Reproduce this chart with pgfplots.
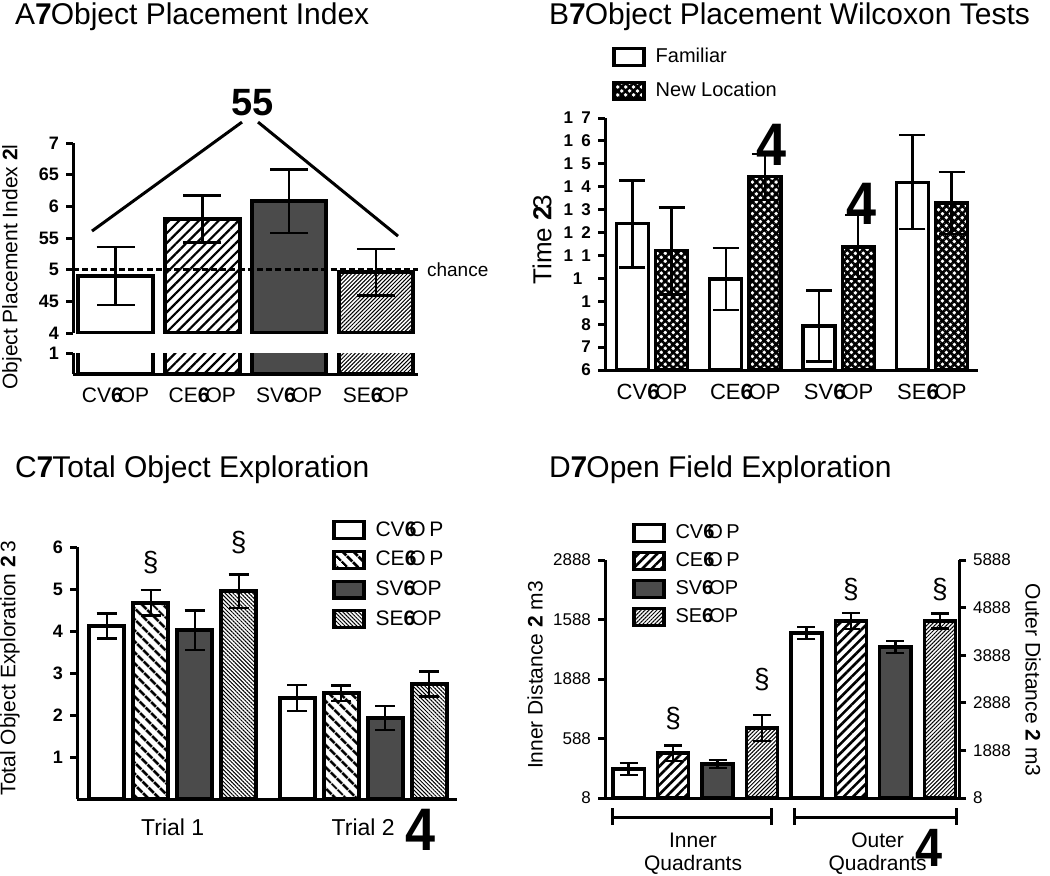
\documentclass[border=0pt]{standalone}
\usepackage{pgfplots}
\pgfplotsset{compat=1.18}
\usetikzlibrary{patterns.meta}
\usepackage{fontspec}
\setmainfont{Liberation Sans}
\newcommand\fs[1]{\fontsize{#1}{#1}\selectfont}
\definecolor{dgray}{RGB}{75,75,75}

\pgfplotsset{
  panel/.style={
    scale only axis, anchor=south west, clip mode=individual,
    ybar, bar shift=0pt,
    axis line style={line width=1.5pt, black},
    tick style={line width=1.5pt, black},
    major tick length=3.5pt, tick align=outside,
    xtick style={draw=none},
    /pgf/number format/assume math mode=true,
    error bars/y dir=both, error bars/y explicit,
    error bars/error bar style={line width=1.2pt, black},
    legend cell align=left,
  },
  boxleg/.style={legend image code/.code={\draw[##1, line width=1.6pt] (0pt,-4.2pt) rectangle (15pt,4.2pt);}},
  legsty/.style={legend style={draw=none, fill=none, inner sep=0pt, anchor=north west, row sep=4pt, column sep=3pt}},
}

\begin{document}
\begin{tikzpicture}
\path[use as bounding box] (0,0) rectangle (525pt,-437.5pt);

% ---------------- Panel A ----------------
\node[anchor=base west, font=\fs{15}] at (4pt,-12pt) {A\textbf{7}\kern-0.5pt Object Placement Index};
\begin{axis}[panel, at={(36.5pt,-166.5pt)}, width=172.5pt, height=95pt,
  xmin=-0.49, xmax=3.485, ymin=0.4, ymax=0.7,
  axis y line*=left, axis x line=none, xtick=\empty,
  ytick={0.4,0.45,0.5,0.55,0.6,0.65,0.7}, yticklabels={4,45,5,55,6,65,7},
  yticklabel style={font=\bfseries\fs{9}},
  bar width=0.86,
  error bars/error mark options={line width=1.2pt, mark size=9.5pt, rotate=90},
]
\addplot[draw=black, line width=2pt, fill=white] coordinates {(0,0.49) +- (0,0.046)};
\addplot[draw=black, line width=2pt, pattern={Lines[angle=45,distance=3.5pt,line width=1.1pt]}] coordinates {(1,0.58) +- (0,0.037)};
\addplot[draw=black, line width=2pt, fill=dgray] coordinates {(2,0.608) +- (0,0.05)};
\addplot[draw=black, line width=2pt, pattern={Lines[angle=45,distance=1.4pt,line width=0.5pt]}] coordinates {(3,0.496) +- (0,0.037)};
\addplot[sharp plot, no marks, black, line width=1.3pt, dash pattern=on 3pt off 1.6pt, error bars/y dir=none] coordinates {(-0.49,0.5) (3.485,0.5)};
\draw[line width=1.5pt] (axis cs:-0.271,0.561) -- (axis cs:1.457,0.733);
\draw[line width=1.5pt] (axis cs:1.642,0.733) -- (axis cs:3.255,0.553);
\node[font=\bfseries\fs{19}] at (axis cs:1.575,0.763) {55};
\node[anchor=west, font=\fs{9.5}, xshift=1pt] at (axis cs:3.485,0.5) {chance};
\end{axis}
\begin{axis}[panel, at={(36.5pt,-187pt)}, width=172.5pt, height=10.5pt,
  xmin=-0.49, xmax=3.485, ymin=0, ymax=0.1,
  axis y line*=left, axis x line*=bottom,
  ytick={0.1}, yticklabels={1}, yticklabel style={font=\bfseries\fs{9}},
  xtick={0,1,2,3},
  xticklabels={CV\textbf{6}\kern-2pt OP,CE\textbf{6}\kern-2pt OP,SV\textbf{6}\kern-2pt OP,SE\textbf{6}\kern-2pt OP},
  xticklabel style={font=\fs{10.5}},
  bar width=0.86, error bars/y dir=none,
]
\addplot[draw=black, line width=2pt, fill=white] coordinates {(0,0.49)};
\addplot[draw=black, line width=2pt, pattern={Lines[angle=45,distance=3.5pt,line width=1.1pt]}] coordinates {(1,0.58)};
\addplot[draw=black, line width=2pt, fill=dgray] coordinates {(2,0.608)};
\addplot[draw=black, line width=2pt, pattern={Lines[angle=45,distance=1.4pt,line width=0.5pt]}] coordinates {(3,0.496)};
\end{axis}
\node[rotate=90, font=\fs{10.5}] at (6pt,-133.5pt) {Object Placement Index \textbf{2}l};

% ---------------- Panel B ----------------
\node[anchor=base west, font=\fs{15}] at (271pt,-12pt) {B\textbf{7}\kern-0.5pt Object Placement Wilcoxon Tests};
\begin{axis}[panel, legsty, at={(302.5pt,-185pt)}, width=186.5pt, height=126pt,
  xmin=-0.504, xmax=3.494, ymin=6, ymax=17,
  axis y line*=left, axis x line*=bottom,
  xtick={0,1,2,3},
  xticklabels={CV\textbf{6}\kern-2pt OP,CE\textbf{6}\kern-2pt OP,SV\textbf{6}\kern-2pt OP,SE\textbf{6}\kern-2pt OP},
  xticklabel style={font=\fs{11}},
  ytick={6,...,17},
  yticklabels={6,7,8,1,1\enspace,1\enspace 1,1\enspace 2,1\enspace 3,1\enspace 4,1\enspace 5,1\enspace 6,1\enspace 7},
  yticklabel style={font=\bfseries\fs{8.5}},
  bar width=0.343,
  error bars/error mark options={line width=1.2pt, mark size=6.5pt, rotate=90},
  legend style={at={(0.019,1.294)}, font=\fs{10}},
]
\addplot[boxleg, draw=black, line width=1.6pt, fill=white] coordinates {(-0.21,12.38) +- (0,1.9) (0.79,9.97) +- (0,1.35) (1.79,7.92) +- (0,1.55) (2.79,14.2) +- (0,2.05)};
\addlegendentry{Familiar}
\addplot[boxleg, draw=black, line width=1.6pt, pattern={Hatch[angle=45,distance=2.8pt,line width=1.3pt]}] coordinates {(0.21,11.2) +- (0,1.9) (1.21,14.43) +- (0,1.0) (2.21,11.37) +- (0,1.4) (3.21,13.29) +- (0,1.35)};
\addlegendentry{New Location}
\end{axis}
\node[rotate=90, font=\fs{13}] at (271pt,-120pt) {Time \textbf{2}\kern-2pt 3};
\node[font=\bfseries\fs{30}, xscale=0.9] at (386pt,-72.5pt) {4};
\node[font=\bfseries\fs{30}, xscale=0.9] at (431pt,-102pt) {4};

% ---------------- Panel C ----------------
\node[anchor=base west, font=\fs{15}] at (4pt,-238.5pt) {C\textbf{7}\kern-0.5pt Total Object Exploration};
\begin{axis}[panel, legsty, at={(38.5pt,-399.5pt)}, width=190pt, height=126pt,
  xmin=0.4976, xmax=2.492, ymin=0, ymax=6,
  axis y line*=left, axis x line*=bottom,
  xtick={1,2}, xticklabels={Trial 1,Trial 2}, xticklabel style={font=\fs{11.5}, yshift=-3pt},
  ytick={1,...,6}, yticklabel style={font=\bfseries\fs{9}},
  bar width=0.184,
  error bars/error mark options={line width=1.2pt, mark size=5pt, rotate=90},
  legend style={at={(0.671,1.119)}, font=\fs{10.5}, row sep=2pt},
]
\addplot[boxleg, draw=black, line width=1.8pt, fill=white] coordinates {(0.6535,4.12) +- (0,0.3) (1.6535,2.4) +- (0,0.31)};
\addlegendentry{CV\textbf{6}\kern-3.5pt O\,P}
\addplot[boxleg, draw=black, line width=1.8pt, pattern={Lines[angle=-45,distance=4pt,line width=1.5pt]}] coordinates {(0.8845,4.67) +- (0,0.3) (1.8845,2.52) +- (0,0.18)};
\addlegendentry{CE\textbf{6}\kern-3.5pt O\,P}
\addplot[boxleg, draw=black, line width=1.8pt, fill=dgray] coordinates {(1.1155,4.02) +- (0,0.47) (2.1155,1.93) +- (0,0.28)};
\addlegendentry{SV\textbf{6}\kern-2pt OP}
\addplot[boxleg, draw=black, line width=1.8pt, pattern={Lines[angle=-45,distance=1.4pt,line width=0.5pt]}] coordinates {(1.3465,4.95) +- (0,0.4) (2.3465,2.74) +- (0,0.3)};
\addlegendentry{SE\textbf{6}\kern-2pt OP}
\node[font=\fs{14}] at (axis cs:0.8845,5.62) {§};
\node[font=\fs{14}] at (axis cs:1.3465,6.1) {§};
\end{axis}
\node[rotate=90, font=\fs{10.5}] at (5pt,-334pt) {Total Object Exploration \textbf{2}\,3};
\node[font=\bfseries\fs{30}, xscale=0.9] at (210.5pt,-415pt) {4};

% ---------------- Panel D ----------------
\node[anchor=base west, font=\fs{15}] at (271pt,-238.5pt) {D\textbf{7}\kern-0.5pt Open Field Exploration};
\begin{axis}[panel, legsty, at={(302.5pt,-399pt)}, width=177pt, height=119pt,
  xmin=-0.53, xmax=7.43, ymin=0, ymax=2000,
  axis y line*=left, axis x line*=bottom,
  xtick={1.45,5.6}, xticklabels={Inner\\Quadrants,Outer\\Quadrants},
  xticklabel style={font=\fontsize{10.5}{11.5}\selectfont, align=center, yshift=-10.5pt},
  ytick={0,500,1000,1500,2000}, yticklabels={8,588,1888,1588,2888},
  yticklabel style={font=\fs{8.5}},
  bar width=0.7,
  error bars/error mark options={line width=1.2pt, mark size=4.5pt, rotate=90},
  legend style={at={(0.076,1.168)}, font=\fs{10}, row sep=1.5pt},
]
\addplot[boxleg, draw=black, line width=1.6pt, fill=white] coordinates {(0,244) +- (0,50)};
\addlegendentry{CV\textbf{6}\kern-3.5pt O\,P}
\addplot[boxleg, draw=black, line width=1.6pt, pattern={Lines[angle=45,distance=3.3pt,line width=1.3pt]}] coordinates {(1,378) +- (0,65)};
\addlegendentry{CE\textbf{6}\kern-3.5pt O\,P}
\addplot[boxleg, draw=black, line width=1.6pt, fill=dgray] coordinates {(2,286) +- (0,35)};
\addlegendentry{SV\textbf{6}\kern-2pt OP}
\addplot[boxleg, draw=black, line width=1.6pt, pattern={Lines[angle=45,distance=1.4pt,line width=0.5pt]}] coordinates {(3,588) +- (0,110)};
\addlegendentry{SE\textbf{6}\kern-2pt OP}
\node[font=\fs{14}] at (axis cs:1,672) {§};
\node[font=\fs{14}] at (axis cs:3,992) {§};
\draw[line width=1.5pt] (axis cs:-0.37,-160) -- (axis cs:3.22,-160);
\draw[line width=1.5pt] (axis cs:-0.37,-84) -- (axis cs:-0.37,-227);
\draw[line width=1.5pt] (axis cs:3.22,-84) -- (axis cs:3.22,-227);
\draw[line width=1.5pt] (axis cs:3.74,-160) -- (axis cs:7.38,-160);
\draw[line width=1.5pt] (axis cs:3.74,-84) -- (axis cs:3.74,-227);
\draw[line width=1.5pt] (axis cs:7.38,-84) -- (axis cs:7.38,-227);
\end{axis}
\begin{axis}[panel, at={(302.5pt,-399pt)}, width=177pt, height=119pt,
  xmin=-0.53, xmax=7.43, ymin=0, ymax=5000,
  axis y line*=right, axis x line=none, xtick=\empty,
  ytick={0,1000,...,5000}, yticklabels={8,1888,2888,3888,4888,5888},
  yticklabel style={font=\fs{8.5}},
  bar width=0.7,
  error bars/error mark options={line width=1.2pt, mark size=4.5pt, rotate=90},
]
\addplot[draw=black, line width=1.6pt, fill=white] coordinates {(4,3466) +- (0,130)};
\addplot[draw=black, line width=1.6pt, pattern={Lines[angle=45,distance=3.3pt,line width=1.3pt]}] coordinates {(5,3718) +- (0,170)};
\addplot[draw=black, line width=1.6pt, fill=dgray] coordinates {(6,3172) +- (0,130)};
\addplot[draw=black, line width=1.6pt, pattern={Lines[angle=45,distance=1.4pt,line width=0.5pt]}] coordinates {(7,3718) +- (0,160)};
\node[font=\fs{14}] at (axis cs:5,4370) {§};
\node[font=\fs{14}] at (axis cs:7,4370) {§};
\end{axis}
\node[rotate=90, font=\fs{10.5}] at (267.5pt,-337.5pt) {Inner Distance \textbf{2} m3};
\node[rotate=-90, font=\fs{10.5}] at (516.5pt,-340pt) {Outer Distance \textbf{2} m3};
\node[font=\bfseries\fs{27}, xscale=0.9, inner sep=0pt] at (464.5pt,-424pt) {4};
\end{tikzpicture}
\end{document}
